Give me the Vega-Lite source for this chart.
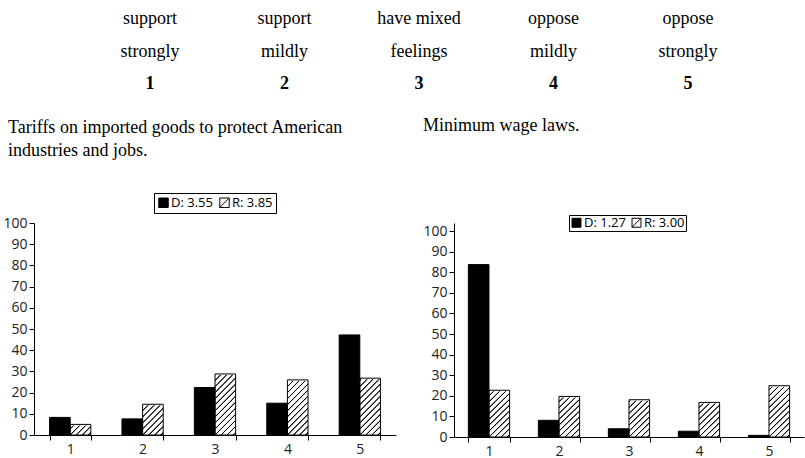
{
  "$schema": "https://vega.github.io/schema/vega-lite/v6.json",
  "background": "white",
  "padding": {"left": 2, "top": 2, "right": 2, "bottom": 2},
  "bounds": "flush",
  "spacing": 112,
  "datasets": {
    "header": [
      {"col": 1, "row": "a", "label": "support"},
      {"col": 1, "row": "b", "label": "strongly"},
      {"col": 1, "row": "c", "label": "1"},
      {"col": 2, "row": "a", "label": "support"},
      {"col": 2, "row": "b", "label": "mildly"},
      {"col": 2, "row": "c", "label": "2"},
      {"col": 3, "row": "a", "label": "have mixed"},
      {"col": 3, "row": "b", "label": "feelings"},
      {"col": 3, "row": "c", "label": "3"},
      {"col": 4, "row": "a", "label": "oppose"},
      {"col": 4, "row": "b", "label": "mildly"},
      {"col": 4, "row": "c", "label": "4"},
      {"col": 5, "row": "a", "label": "oppose"},
      {"col": 5, "row": "b", "label": "strongly"},
      {"col": 5, "row": "c", "label": "5"}
    ],
    "bars": [
      {"q": "tariffs", "cat": 1, "party": "D", "pct": 8.3},
      {"q": "tariffs", "cat": 1, "party": "R", "pct": 5.0},
      {"q": "tariffs", "cat": 2, "party": "D", "pct": 7.6},
      {"q": "tariffs", "cat": 2, "party": "R", "pct": 14.5},
      {"q": "tariffs", "cat": 3, "party": "D", "pct": 22.4},
      {"q": "tariffs", "cat": 3, "party": "R", "pct": 28.8},
      {"q": "tariffs", "cat": 4, "party": "D", "pct": 15.0},
      {"q": "tariffs", "cat": 4, "party": "R", "pct": 26.0},
      {"q": "tariffs", "cat": 5, "party": "D", "pct": 47.2},
      {"q": "tariffs", "cat": 5, "party": "R", "pct": 26.8},
      {"q": "wage", "cat": 1, "party": "D", "pct": 83.7},
      {"q": "wage", "cat": 1, "party": "R", "pct": 22.7},
      {"q": "wage", "cat": 2, "party": "D", "pct": 8.1},
      {"q": "wage", "cat": 2, "party": "R", "pct": 19.7},
      {"q": "wage", "cat": 3, "party": "D", "pct": 4.0},
      {"q": "wage", "cat": 3, "party": "R", "pct": 18.1},
      {"q": "wage", "cat": 4, "party": "D", "pct": 2.8},
      {"q": "wage", "cat": 4, "party": "R", "pct": 16.8},
      {"q": "wage", "cat": 5, "party": "D", "pct": 0.8},
      {"q": "wage", "cat": 5, "party": "R", "pct": 24.9}
    ]
  },
  "vconcat": [
    {
      "width": 770,
      "height": 109,
      "data": {"name": "header"},
      "encoding": {
        "x": {"field": "col", "type": "ordinal", "scale": {"type": "point", "padding": 0.8625}, "axis": null},
        "y": {"field": "row", "type": "ordinal", "scale": {"type": "point", "padding": 0.703}, "axis": null},
        "text": {"field": "label"}
      },
      "layer": [
        {
          "transform": [{"filter": "datum.row != 'c'"}],
          "mark": {"type": "text", "font": "Liberation Serif", "fontSize": 18, "baseline": "alphabetic", "color": "black"}
        },
        {
          "transform": [{"filter": "datum.row == 'c'"}],
          "mark": {"type": "text", "font": "Liberation Serif", "fontSize": 18, "fontWeight": "bold", "baseline": "alphabetic", "color": "black"}
        }
      ]
    },
    {
      "bounds": "flush",
      "spacing": 58,
      "resolve": {"scale": {"color": "independent"}, "legend": {"color": "independent"}},
      "hconcat": [
        {
          "width": 362,
          "height": 212,
          "data": {"name": "bars"},
          "transform": [{"filter": "datum.q == 'tariffs'"}],
          "title": {
            "text": ["Tariffs on imported goods to protect American", "industries and jobs."],
            "anchor": "start", "frame": "bounds", "font": "Liberation Serif", "fontSize": 18,
            "fontWeight": "normal", "lineHeight": 23, "offset": 33, "dx": 5, "color": "black"
          },
          "encoding": {
            "x": {"field": "cat", "type": "ordinal", "title": null,
                  "scale": {"paddingInner": 0.43, "paddingOuter": 0.215},
                  "axis": {"labelAngle": 0, "tickBand": "extent", "labelPadding": 2}},
            "xOffset": {"field": "party", "type": "nominal", "scale": {"domain": ["D", "R"]}}
          },
          "layer": [
            {
              "transform": [{"filter": "datum.party == 'R'"}],
              "mark": {
                "type": "bar",
                "fill": {
                  "gradient": "linear", "x1": 0, "y1": 0, "x2": 0.392, "y2": 1.199,
                  "stops": [
                    {"offset": 0, "color": "white"},
                    {"offset": 0.024, "color": "white"}, {"offset": 0.032, "color": "black"}, {"offset": 0.040, "color": "black"}, {"offset": 0.048, "color": "white"},
                    {"offset": 0.096, "color": "white"}, {"offset": 0.104, "color": "black"}, {"offset": 0.112, "color": "black"}, {"offset": 0.120, "color": "white"},
                    {"offset": 0.168, "color": "white"}, {"offset": 0.176, "color": "black"}, {"offset": 0.184, "color": "black"}, {"offset": 0.192, "color": "white"},
                    {"offset": 0.239, "color": "white"}, {"offset": 0.247, "color": "black"}, {"offset": 0.255, "color": "black"}, {"offset": 0.263, "color": "white"},
                    {"offset": 0.311, "color": "white"}, {"offset": 0.319, "color": "black"}, {"offset": 0.327, "color": "black"}, {"offset": 0.335, "color": "white"},
                    {"offset": 0.383, "color": "white"}, {"offset": 0.391, "color": "black"}, {"offset": 0.399, "color": "black"}, {"offset": 0.407, "color": "white"},
                    {"offset": 0.455, "color": "white"}, {"offset": 0.463, "color": "black"}, {"offset": 0.471, "color": "black"}, {"offset": 0.479, "color": "white"},
                    {"offset": 0.527, "color": "white"}, {"offset": 0.535, "color": "black"}, {"offset": 0.543, "color": "black"}, {"offset": 0.551, "color": "white"},
                    {"offset": 0.598, "color": "white"}, {"offset": 0.606, "color": "black"}, {"offset": 0.614, "color": "black"}, {"offset": 0.622, "color": "white"},
                    {"offset": 0.670, "color": "white"}, {"offset": 0.678, "color": "black"}, {"offset": 0.686, "color": "black"}, {"offset": 0.694, "color": "white"},
                    {"offset": 0.742, "color": "white"}, {"offset": 0.750, "color": "black"}, {"offset": 0.758, "color": "black"}, {"offset": 0.766, "color": "white"},
                    {"offset": 0.814, "color": "white"}, {"offset": 0.822, "color": "black"}, {"offset": 0.830, "color": "black"}, {"offset": 0.838, "color": "white"},
                    {"offset": 0.886, "color": "white"}, {"offset": 0.894, "color": "black"}, {"offset": 0.902, "color": "black"}, {"offset": 0.910, "color": "white"},
                    {"offset": 0.957, "color": "white"}, {"offset": 0.965, "color": "black"}, {"offset": 0.973, "color": "black"}, {"offset": 0.981, "color": "white"},
                    {"offset": 1, "color": "white"}
                  ]
                }
              },
              "encoding": {
                "y": {"datum": 30, "type": "quantitative", "title": null,
                      "scale": {"domain": [0, 100], "nice": false},
                      "axis": {"values": [0, 10, 20, 30, 40, 50, 60, 70, 80, 90, 100], "labelPadding": 2}},
                "y2": {"datum": 0}
              }
            },
            {
              "transform": [{"filter": "datum.party == 'R'"}],
              "mark": {"type": "bar", "fill": "white", "stroke": "white", "strokeWidth": 2},
              "encoding": {
                "y": {"field": "pct", "type": "quantitative", "title": null,
                      "scale": {"domain": [0, 100], "nice": false},
                      "axis": {"values": [0, 10, 20, 30, 40, 50, 60, 70, 80, 90, 100], "labelPadding": 2}},
                "y2": {"datum": 30}
              }
            },
            {
              "mark": {"type": "bar", "stroke": "black", "strokeWidth": 1},
              "encoding": {
                "y": {"field": "pct", "type": "quantitative", "title": null,
                      "scale": {"domain": [0, 100], "nice": false},
                      "axis": {"values": [0, 10, 20, 30, 40, 50, 60, 70, 80, 90, 100], "labelPadding": 2}},
                "color": {
                  "field": "party", "type": "nominal",
                  "scale": {"domain": ["D", "R"], "range": ["black", "transparent"]},
                  "legend": {
                    "orient": "none", "legendX": 120, "legendY": -30, "direction": "horizontal", "title": null,
                    "symbolType": "M-1,-1H1V1H-1Z M-1,1L1,-1", "symbolSize": 90,
                    "symbolStrokeColor": "black", "symbolStrokeWidth": 1,
                    "labelExpr": "datum.value == 'D' ? 'D: 3.55' : 'R: 3.85'",
                    "labelFont": "Open Sans", "labelFontSize": 13, "labelColor": "black",
                    "labelOffset": 1, "columnPadding": 4, "padding": 3,
                    "strokeColor": "black", "fillColor": "white"
                  }
                }
              }
            }
          ]
        },
        {
          "width": 350,
          "height": 214,
          "data": {"name": "bars"},
          "transform": [{"filter": "datum.q == 'wage'"}],
          "title": {
            "text": "Minimum wage laws.",
            "anchor": "start", "frame": "bounds", "font": "Liberation Serif", "fontSize": 18,
            "fontWeight": "normal", "offset": 80, "color": "black"
          },
          "encoding": {
            "x": {"field": "cat", "type": "ordinal", "title": null,
                  "scale": {"paddingInner": 0.41, "paddingOuter": 0.205},
                  "axis": {"labelAngle": 0, "tickBand": "extent", "labelPadding": 2}},
            "xOffset": {"field": "party", "type": "nominal", "scale": {"domain": ["D", "R"]}}
          },
          "layer": [
            {
              "transform": [{"filter": "datum.party == 'R'"}],
              "mark": {
                "type": "bar",
                "fill": {
                  "gradient": "linear", "x1": 0, "y1": 0, "x2": 0.392, "y2": 1.199,
                  "stops": [
                    {"offset": 0, "color": "white"},
                    {"offset": 0.024, "color": "white"}, {"offset": 0.032, "color": "black"}, {"offset": 0.040, "color": "black"}, {"offset": 0.048, "color": "white"},
                    {"offset": 0.096, "color": "white"}, {"offset": 0.104, "color": "black"}, {"offset": 0.112, "color": "black"}, {"offset": 0.120, "color": "white"},
                    {"offset": 0.168, "color": "white"}, {"offset": 0.176, "color": "black"}, {"offset": 0.184, "color": "black"}, {"offset": 0.192, "color": "white"},
                    {"offset": 0.239, "color": "white"}, {"offset": 0.247, "color": "black"}, {"offset": 0.255, "color": "black"}, {"offset": 0.263, "color": "white"},
                    {"offset": 0.311, "color": "white"}, {"offset": 0.319, "color": "black"}, {"offset": 0.327, "color": "black"}, {"offset": 0.335, "color": "white"},
                    {"offset": 0.383, "color": "white"}, {"offset": 0.391, "color": "black"}, {"offset": 0.399, "color": "black"}, {"offset": 0.407, "color": "white"},
                    {"offset": 0.455, "color": "white"}, {"offset": 0.463, "color": "black"}, {"offset": 0.471, "color": "black"}, {"offset": 0.479, "color": "white"},
                    {"offset": 0.527, "color": "white"}, {"offset": 0.535, "color": "black"}, {"offset": 0.543, "color": "black"}, {"offset": 0.551, "color": "white"},
                    {"offset": 0.598, "color": "white"}, {"offset": 0.606, "color": "black"}, {"offset": 0.614, "color": "black"}, {"offset": 0.622, "color": "white"},
                    {"offset": 0.670, "color": "white"}, {"offset": 0.678, "color": "black"}, {"offset": 0.686, "color": "black"}, {"offset": 0.694, "color": "white"},
                    {"offset": 0.742, "color": "white"}, {"offset": 0.750, "color": "black"}, {"offset": 0.758, "color": "black"}, {"offset": 0.766, "color": "white"},
                    {"offset": 0.814, "color": "white"}, {"offset": 0.822, "color": "black"}, {"offset": 0.830, "color": "black"}, {"offset": 0.838, "color": "white"},
                    {"offset": 0.886, "color": "white"}, {"offset": 0.894, "color": "black"}, {"offset": 0.902, "color": "black"}, {"offset": 0.910, "color": "white"},
                    {"offset": 0.957, "color": "white"}, {"offset": 0.965, "color": "black"}, {"offset": 0.973, "color": "black"}, {"offset": 0.981, "color": "white"},
                    {"offset": 1, "color": "white"}
                  ]
                }
              },
              "encoding": {
                "y": {"datum": 30, "type": "quantitative", "title": null,
                      "scale": {"domain": [0, 103.9], "nice": false},
                      "axis": {"values": [0, 10, 20, 30, 40, 50, 60, 70, 80, 90, 100], "labelPadding": 2}},
                "y2": {"datum": 0}
              }
            },
            {
              "transform": [{"filter": "datum.party == 'R'"}],
              "mark": {"type": "bar", "fill": "white", "stroke": "white", "strokeWidth": 2},
              "encoding": {
                "y": {"field": "pct", "type": "quantitative", "title": null,
                      "scale": {"domain": [0, 103.9], "nice": false},
                      "axis": {"values": [0, 10, 20, 30, 40, 50, 60, 70, 80, 90, 100], "labelPadding": 2}},
                "y2": {"datum": 30}
              }
            },
            {
              "mark": {"type": "bar", "stroke": "black", "strokeWidth": 1},
              "encoding": {
                "y": {"field": "pct", "type": "quantitative", "title": null,
                      "scale": {"domain": [0, 103.9], "nice": false},
                      "axis": {"values": [0, 10, 20, 30, 40, 50, 60, 70, 80, 90, 100], "labelPadding": 2}},
                "color": {
                  "field": "party", "type": "nominal",
                  "scale": {"domain": ["D", "R"], "range": ["black", "transparent"]},
                  "legend": {
                    "orient": "none", "legendX": 115, "legendY": -8, "direction": "horizontal", "title": null,
                    "symbolType": "M-1,-1H1V1H-1Z M-1,1L1,-1", "symbolSize": 80,
                    "symbolStrokeColor": "black", "symbolStrokeWidth": 1,
                    "labelExpr": "datum.value == 'D' ? 'D: 1.27' : 'R: 3.00'",
                    "labelFont": "Open Sans", "labelFontSize": 13, "labelColor": "black",
                    "labelOffset": 1, "columnPadding": 4, "padding": 1,
                    "strokeColor": "black", "fillColor": "white"
                  }
                }
              }
            }
          ]
        }
      ]
    }
  ],
  "config": {
    "view": {"stroke": null},
    "axis": {
      "grid": false, "domainColor": "black", "tickColor": "black", "tickSize": 5,
      "labelFont": "Open Sans", "labelFontSize": 14, "labelColor": "#222"
    }
  }
}
